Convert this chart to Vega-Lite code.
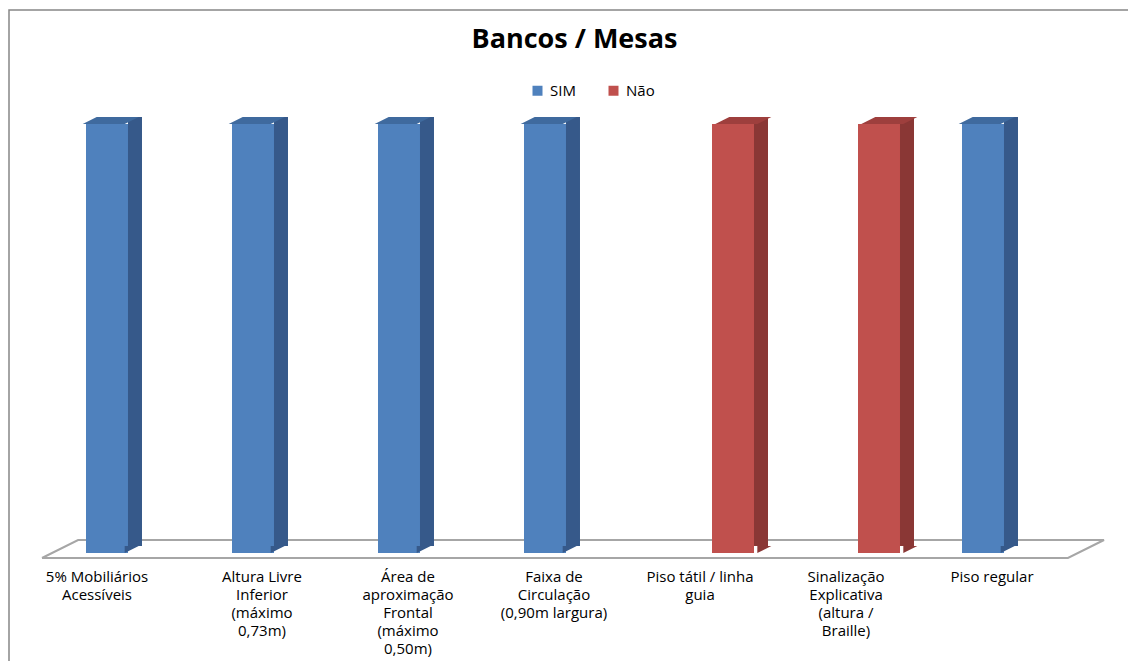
{
  "$schema": "https://vega.github.io/schema/vega-lite/v6.json",
  "width": 1125,
  "height": 660,
  "autosize": {"type": "none"},
  "padding": {"left": 9, "top": 10, "right": 0, "bottom": 0},
  "background": "white",
  "config": {
    "view": {"stroke": "#868686", "strokeWidth": 1.5},
    "font": "Open Sans"
  },
  "title": {
    "text": "Bancos / Mesas",
    "font": "Open Sans",
    "fontSize": 27,
    "fontWeight": "bold",
    "color": "#000000",
    "anchor": "middle",
    "offset": -44,
    "dx": 3
  },
  "datasets": {
    "itens": [
      {"item": "5% Mobiliários|Acessíveis", "resposta": "SIM", "valor": 1},
      {"item": "Altura Livre|Inferior|(máximo|0,73m)", "resposta": "SIM", "valor": 1},
      {"item": "Área de|aproximação|Frontal|(máximo|0,50m)", "resposta": "SIM", "valor": 1},
      {"item": "Faixa de|Circulação|(0,90m largura)", "resposta": "SIM", "valor": 1},
      {"item": "Piso tátil / linha|guia", "resposta": "Não", "valor": 1},
      {"item": "Sinalização|Explicativa|(altura /|Braille)", "resposta": "Não", "valor": 1},
      {"item": "Piso regular", "resposta": "SIM", "valor": 1}
    ],
    "piso": [
      {"ordem": 1, "u": -0.089, "v": -0.0117},
      {"ordem": 2, "u": 6.938, "v": -0.0117},
      {"ordem": 3, "u": 7.185, "v": 0.0303},
      {"ordem": 4, "u": 0.158, "v": 0.0303},
      {"ordem": 5, "u": -0.089, "v": -0.0117}
    ]
  },
  "layer": [
    {
      "data": {"name": "piso"},
      "mark": {"type": "line", "stroke": "#A6A6A6", "strokeWidth": 2},
      "encoding": {
        "x": {"field": "u", "type": "quantitative", "scale": {"domain": [0, 7], "range": [46, 1068], "zero": false, "nice": false}, "axis": null},
        "y": {"field": "v", "type": "quantitative", "scale": {"domain": [0, 1], "range": [543, 114], "zero": false, "nice": false}, "axis": null},
        "order": {"field": "ordem", "type": "quantitative"}
      }
    },
    {
      "data": {"name": "itens"},
      "encoding": {
        "x": {
          "field": "item",
          "type": "nominal",
          "sort": null,
          "scale": {"range": [46, 1068], "paddingInner": 0, "paddingOuter": 0}
        },
        "y": {
          "field": "valor",
          "type": "quantitative",
          "scale": {"domain": [0, 1], "range": [543, 114], "zero": false, "nice": false},
          "axis": null
        }
      },
      "layer": [
        {
          "mark": {"type": "bar", "width": 42},
          "encoding": {
            "x": {
              "field": "item",
              "type": "nominal",
              "sort": null,
              "axis": {
                "orient": "bottom",
                "offset": -112,
                "title": null,
                "domain": false,
                "ticks": false,
                "grid": false,
                "labelAngle": 0,
                "labelPadding": 11,
                "labelFont": "Open Sans",
                "labelFontSize": 15,
                "labelColor": "#000000",
                "labelLineHeight": 18,
                "labelLimit": 0,
                "labelOverlap": false,
                "labelExpr": "split(datum.label, '|')",
                "labelOffset": {"condition": {"test": "datum.value == '5% Mobiliários|Acessíveis'", "value": -31}, "value": -12}
              }
            },
            "xOffset": {
              "field": "resposta",
              "type": "nominal",
              "scale": {"domain": ["SIM", "Não"], "paddingInner": 0, "paddingOuter": 0.738}
            },
            "color": {
              "field": "resposta",
              "type": "nominal",
              "scale": {"domain": ["SIM", "Não"], "range": ["#4F81BD", "#C0504D"]},
              "legend": {
                "orient": "none",
                "legendX": 521,
                "legendY": 73,
                "direction": "horizontal",
                "title": null,
                "symbolType": "square",
                "symbolSize": 100,
                "symbolStrokeWidth": 0,
                "labelFont": "Open Sans",
                "labelFontSize": 15,
                "labelColor": "#000000",
                "labelOffset": 5,
                "columnPadding": 30
              }
            }
          }
        },
        {
          "mark": {"type": "bar", "width": 14, "yOffset": -7, "y2Offset": -7},
          "encoding": {
            "xOffset": {
              "field": "resposta",
              "type": "nominal",
              "scale": {"domain": ["SIM", "Não"], "paddingInner": 0, "paddingOuter": 0.738, "align": 0.9516}
            },
            "color": {"condition": {"test": "datum.resposta == 'SIM'", "value": "#36598A"}, "value": "#8A3735"}
          }
        },
        {
          "mark": {"type": "point", "shape": "M-21,0L-7,-7L35,-7L21,0Z", "size": 4, "filled": true, "opacity": 1, "strokeWidth": 0},
          "encoding": {
            "xOffset": {
              "field": "resposta",
              "type": "nominal",
              "scale": {"type": "point", "domain": ["SIM", "Não"], "padding": 1.238}
            },
            "color": {"condition": {"test": "datum.resposta == 'SIM'", "value": "#3F6A9E"}, "value": "#9E3F3D"}
          }
        },
        {
          "mark": {"type": "point", "shape": "M21,0L35,-7L21,-7Z", "size": 4, "filled": true, "opacity": 1, "strokeWidth": 0},
          "encoding": {
            "xOffset": {
              "field": "resposta",
              "type": "nominal",
              "scale": {"type": "point", "domain": ["SIM", "Não"], "padding": 1.238}
            },
            "y": {"datum": 0, "type": "quantitative"},
            "color": {"condition": {"test": "datum.resposta == 'SIM'", "value": "#36598A"}, "value": "#8A3735"}
          }
        }
      ],
      "resolve": {"scale": {"xOffset": "independent"}}
    }
  ],
  "resolve": {"scale": {"x": "independent"}}
}
